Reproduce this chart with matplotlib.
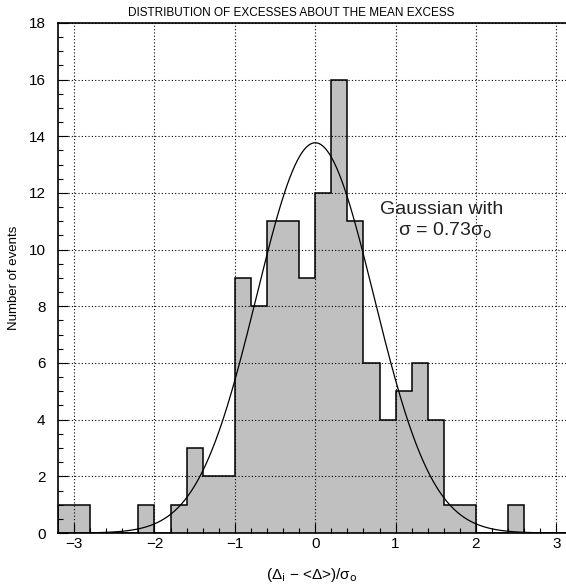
import numpy as np
import matplotlib
matplotlib.use("Agg")
import matplotlib.pyplot as plt

plt.rcParams['font.family'] = ['Liberation Sans', 'DejaVu Sans']
plt.rcParams['mathtext.fontset'] = 'dejavusans'

# histogram of excesses, bins of 0.2 starting at -3.2
bin_lo = -3.2
bin_width = 0.2
counts = [1, 1, 0, 0, 0, 1, 0, 1, 3, 2, 2, 9, 8, 11, 11, 9,
          12, 16, 11, 6, 4, 5, 6, 4, 1, 1, 0, 0, 1, 0, 0, 0]
sigma_fit = 0.73

x_ticks = [-3, -2, -1, 0, 1, 2, 3]
y_ticks = [0, 2, 4, 6, 8, 10, 12, 14, 16, 18]

edges = bin_lo + bin_width * np.arange(len(counts) + 1)
n_events = sum(counts)

fig = plt.figure(figsize=(5.66, 5.88), dpi=100)
ax = fig.add_axes([0.1025, 0.0935, 0.8975, 0.8675])

# filled histogram, outline drawn separately so the grid sits in between
ax.stairs(counts, edges, fill=True, facecolor='#c0c0c0', edgecolor='none', zorder=1)
ax.stairs(counts, edges, color='black', linewidth=1.1, zorder=3)

# gaussian with the same area as the histogram
xs = np.linspace(edges[0], edges[-1], 600)
norm = n_events * bin_width / (np.sqrt(2 * np.pi) * sigma_fit)
ax.plot(xs, norm * np.exp(-xs**2 / (2 * sigma_fit**2)), color='black', linewidth=0.9, zorder=4)

ax.set_xlim(-3.2, 3.12)
ax.set_ylim(0, 18)
ax.set_xticks(x_ticks)
ax.set_xticklabels([str(v).replace('-', '\u2212') for v in x_ticks])
ax.set_yticks(y_ticks)
ax.set_xticks(np.arange(-3.2, 3.2, 0.2), minor=True)
ax.set_yticks(np.arange(0, 18, 0.5), minor=True)
ax.tick_params(which='both', direction='in', labelsize=11)
ax.tick_params(which='major', length=7, width=0.8)
ax.tick_params(which='minor', length=3.5, width=0.8)
ax.tick_params(axis='y', which='major', pad=9)
ax.tick_params(axis='x', which='major', pad=3)

ax.set_axisbelow(False)
ax.grid(True, which='major', color='black', linestyle=(0, (1, 2)), linewidth=0.8)
for s in ['left', 'bottom', 'top']:
    ax.spines[s].set_linewidth(1.2)
ax.spines['right'].set_visible(False)

ax.set_ylabel('Number of events', fontsize=9.5, labelpad=6)
ax.set_xlabel('(\u0394$_\\mathrm{i}$ \u2212 <\u0394>)/\u03c3$_\\mathrm{o}$', fontsize=11, labelpad=11)
fig.text(0.514, 0.978, 'DISTRIBUTION OF EXCESSES ABOUT THE MEAN EXCESS',
         ha='center', va='center', fontsize=8.5)

ax.text(0.81, 11.4, 'Gaussian with', fontsize=14, ha='left', va='center', color='#222222')
ax.text(1.62, 10.65, '\u03c3 = 0.73\u03c3$_\\mathrm{o}$', fontsize=14, ha='center', va='center', color='#222222')

fig.savefig('out.png', dpi=100)
